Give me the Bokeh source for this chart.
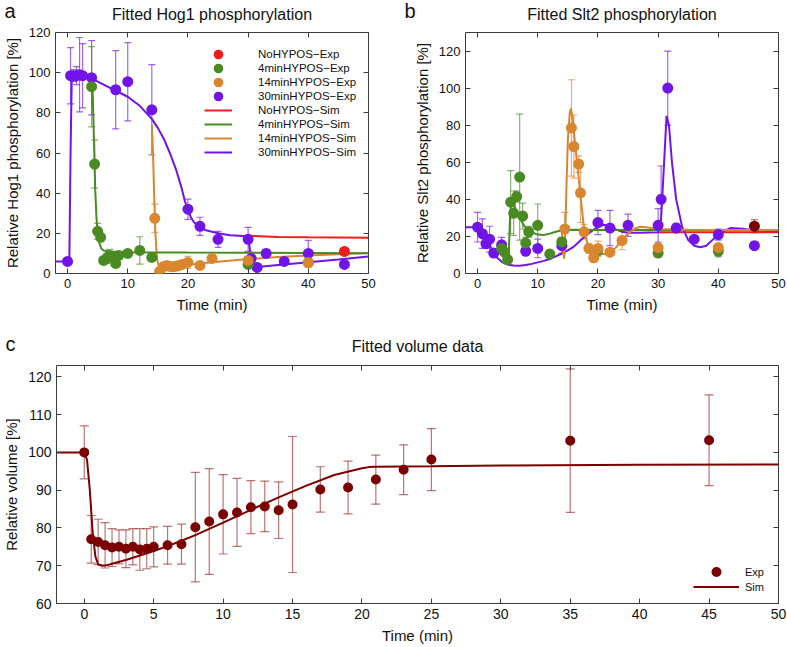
from bokeh.plotting import figure
from bokeh.layouts import column, row
from bokeh.models import (ColumnDataSource, Whisker, TeeHead, Legend, LegendItem,
                          LinearAxis, FixedTicker, Range1d)
from bokeh.embed import file_html
from bokeh.resources import INLINE

FONT = "Liberation Sans"

# ---------------- colours ----------------
C_NO = "#ee1c1c"
C_4 = "#4a8a22"
C_14 = "#d9862e"
C_30 = "#7014e8"
C_VOL = "#7b0000"

# ---------------- panel a : Hog1 ----------------
a_no_x = [46]
a_no_y = [11]
a_no_err = [1.5]

a_4_x = [4, 4.5, 5, 5.5, 6, 6.5, 7, 7.5, 8, 8.5, 10, 12, 14, 30, 40]
a_4_y = [93, 54.5, 21, 18, 6.5, 7.5, 9, 8.5, 5, 9, 10, 11.5, 8, 4.5, 5.5]
a_4_err = [20, 12, 4, 2, 2, 2.5, 3, 2, 2, 2, 1.5, 6.8, 1, 1, 1]

a_14_x = [14.5, 15.3, 16, 16.5, 17, 17.5, 18, 18.5, 19, 20, 22, 24, 30, 40]
a_14_y = [27.5, 1, 3.5, 4, 3.5, 3.3, 3.6, 4, 4.5, 5.5, 4, 7.5, 6.5, 5.3]
a_14_err = [7, 1, 1, 1, 1, 1, 1, 1, 1, 3, 1, 1.5, 2, 2]

a_30_x = [0, 0.5, 1, 1.5, 2, 2.5, 4, 8, 10, 14, 20, 22, 25, 30, 30.5, 31.5, 33, 36, 40, 46]
a_30_y = [6, 98.5, 98.5, 98.5, 99, 98.5, 97.5, 91.5, 95.5, 81.5, 32, 23.5, 17, 17, 7.5, 3, 10, 6, 10, 4.5]
a_30_err = [0, 14, 3, 4.5, 18.5, 16, 18.5, 19.5, 19.5, 22.5, 5, 4.5, 4, 6, 2, 1, 2, 1, 6.5, 1]

a_sim_no_x = [30, 35, 40, 45, 50]
a_sim_no_y = [18.8, 18.2, 18.0, 17.9, 17.8]

a_sim_4_x = [4, 4.2, 4.4, 4.6, 4.8, 5, 5.3, 5.6, 6, 7, 8, 10, 15, 20, 30, 40, 50]
a_sim_4_y = [97, 88, 65, 42, 28, 20, 15, 12.5, 11.5, 11, 10.8, 10.6, 10.5, 10.4, 10.3, 10.2, 10.1]

a_sim_14_x = [14, 14.2, 14.4, 14.6, 14.8, 15, 15.3, 15.7, 16.5, 18, 20, 22, 25, 30, 35, 40, 45, 50]
a_sim_14_y = [74, 60, 38, 20, 10, 5, 3.2, 2.9, 3, 3.6, 4.4, 5, 5.9, 7.2, 8.2, 9, 9.6, 10.2]

a_sim_30_x = [-2, 0.3, 0.5, 0.7, 1, 2, 4, 6, 8, 10, 12, 14, 15, 16, 17, 18, 19, 19.5, 20,
              20.5, 21, 22, 23, 25, 27, 30, 30.3, 30.6, 31, 31.5, 35, 40, 45, 50]
a_sim_30_y = [6, 6, 60, 97, 98.5, 98.5, 97, 94, 91, 88, 83.5, 77, 72.5, 67, 60, 52, 42, 36, 31.5,
              28, 25.5, 23, 21.5, 20, 19, 18.5, 12, 6, 4, 3.2, 4.2, 5.6, 7, 8.5]

# ---------------- panel b : Slt2 ----------------
b_no_x = [46]
b_no_y = [25.5]
b_no_err = [3.5]

b_4_x = [4, 4.5, 5, 5.5, 6, 6.5, 7, 7.5, 8, 8.5, 10, 12, 14, 20, 30, 40]
b_4_y = [13.5, 11.5, 7.5, 38.5, 32.5, 41.5, 52, 31, 16.5, 22.5, 26, 10.5, 17, 12.5, 11, 12]
b_4_err = [3, 2, 1.5, 17, 12, 3, 34, 7, 3, 3, 11.5, 2, 2.5, 3, 1.5, 3]

b_14_x = [14.5, 15.6, 16, 16.8, 17.1, 17.7, 18.5, 19.3, 20, 22, 24, 30, 40]
b_14_y = [24, 78.5, 68.5, 59, 43.5, 22.5, 13.5, 8.5, 13.5, 11.5, 17.8, 14, 14]
b_14_err = [9, 26, 17, 4.5, 16, 4, 2.5, 1.5, 4, 1.5, 5, 2, 2]

b_30_x = [0, 0.8, 1.4, 2, 2.7, 4, 8, 10, 14, 20, 22, 25, 30, 30.5, 31.6, 33, 36, 40, 46]
b_30_y = [25, 21.5, 16, 18.5, 11, 15.5, 12, 13.5, 15, 27.5, 24.5, 26, 26, 40, 100, 24.5, 18.5, 21, 15]
b_30_err = [8, 8, 2, 7, 2, 4, 2, 5, 4, 6.5, 9.5, 6, 9, 18, 20, 2.5, 1, 3, 1]

b_sim_no_x = [30, 40, 50]
b_sim_no_y = [22.3, 22.3, 22.3]

b_sim_4_x = [4, 5, 5.2, 5.4, 5.6, 5.9, 6.3, 7, 7.8, 8.8, 10, 11, 12, 13, 14, 16, 20, 25, 30, 40, 50]
b_sim_4_y = [6.3, 4.8, 12, 30, 39.5, 39, 35, 30, 25.5, 22.5, 21, 20.8, 21.5, 22.5, 23.3, 23.6,
             23.5, 23.5, 23.4, 23.3, 23.3]

b_sim_14_x = [14, 14.2, 14.4, 14.6, 14.8, 15, 15.3, 15.5, 15.8, 16.2, 16.6, 17.1, 17.7, 18.2,
              18.8, 19.5, 20, 21, 22, 23, 24, 25, 26, 27, 28, 30, 35, 40, 50]
b_sim_14_y = [23.5, 12, 8, 25, 50, 72, 86, 89, 84, 70, 58, 42, 24, 17, 13, 11, 10.5, 10.5, 11.5,
              14, 18, 21.5, 24, 25.2, 25, 24, 23.6, 23.5, 23.5]

b_sim_30_x = [-2, 0, 0.8, 1.6, 2.4, 3.2, 4, 5, 6, 7, 8, 9, 10, 11, 12, 13, 14, 15, 16, 17, 18,
              19, 20, 21, 22, 23, 24, 25, 27, 30, 30.5, 31, 31.4, 31.8, 32.3, 33, 34, 35, 36,
              37, 38, 39, 40, 41, 42, 44, 46, 50]
b_sim_30_y = [25, 25, 22, 17.8, 13, 8.7, 6.3, 4.8, 4.3, 4.2, 4.6, 5.2, 6, 6.8, 7.8, 9.2, 10.8,
              12.5, 14.5, 17.5, 20.5, 23, 25, 26.3, 25.5, 23.8, 22.5, 22, 22, 22.3, 30, 60, 85,
              80, 60, 40, 25, 18, 15, 14.2, 15, 18, 21, 23, 24.5, 24.2, 23.2, 22.8]

# ---------------- panel c : volume ----------------
c_x = [0, 0.5, 1, 1.5, 2, 2.5, 3, 3.5, 4, 4.5, 5, 6, 7, 8, 9, 10, 11, 12, 13, 14, 15, 17, 19,
       21, 23, 25, 35, 45]
c_y = [100, 77, 76.3, 75.4, 74.8, 75, 74.5, 75, 74.3, 74.5, 75, 75.4, 75.7, 80.2, 81.7, 83.6,
       84.1, 85.5, 85.7, 84.7, 86.2, 90.2, 90.7, 92.8, 95.4, 98.1, 103.1, 103.2]
c_err = [7, 6.3, 6, 6, 5, 4.5, 5, 4.8, 5.5, 5.3, 5.3, 5, 5.3, 14.5, 14, 10.5, 9, 7, 6.7, 7.5,
         18, 6, 7, 6.5, 6.6, 8.2, 19, 12]

c_sim_x = [-2, 0, 0.2, 0.4, 0.6, 0.8, 1.0, 1.3, 1.6, 2, 3, 4, 5, 6, 7, 8, 10, 12, 14, 16, 18,
           20, 20.5, 21, 25, 30, 40, 50]
c_sim_y = [100, 100, 98, 90, 79, 72.5, 70.3, 70, 70.1, 70.5, 71.5, 72.7, 73.9, 75.2, 76.6, 78.1,
           81.4, 84.8, 88.1, 91.2, 94, 95.8, 96.1, 96.2, 96.3, 96.5, 96.7, 96.8]

xticks_ab = [0, 10, 20, 30, 40, 50]
yticks_a = [0, 20, 40, 60, 80, 100, 120]
yticks_b = [0, 20, 40, 60, 80, 100, 120]
xticks_c = [0, 5, 10, 15, 20, 25, 30, 35, 40, 45, 50]
yticks_c = [60, 70, 80, 90, 100, 110, 120]

EDGE = "#3c3c3c"


def make_fig(width, height, xr, yr, letter, title, xlabel, ylabel, xticks, yticks,
             mbl, mbr, mbt, mbb, letter_offset, title_standoff, letter_standoff,
             tick_font="13px"):
    p = figure(width=width, height=height, x_range=Range1d(*xr), y_range=Range1d(*yr),
               output_backend="svg", toolbar_location=None, tools="",
               min_border_left=mbl, min_border_right=mbr, min_border_top=mbt,
               min_border_bottom=mbb, x_axis_location=None, y_axis_location=None)
    # panel letter = plot title (outermost above element), pulled down beside the heading
    p.title.text = letter
    p.title.align = "left"
    p.title.offset = letter_offset
    p.title.vertical_align = "bottom"
    p.title.standoff = letter_standoff
    p.title.text_font = FONT
    p.title.text_font_size = "20px"
    p.title.text_font_style = "normal"
    p.title.text_color = "#111111"
    p.outline_line_color = EDGE
    p.outline_line_width = 1
    p.xgrid.visible = False
    p.ygrid.visible = False
    p.background_fill_color = "white"
    p.border_fill_color = "white"

    def axis(ticks, label, show, label_standoff, label_size="15px"):
        ax = LinearAxis(ticker=FixedTicker(ticks=ticks))
        ax.axis_line_color = None
        ax.major_tick_in = 5
        ax.major_tick_out = 0
        ax.major_tick_line_color = EDGE
        ax.minor_tick_line_color = None
        ax.axis_label_text_font = FONT
        ax.axis_label_text_font_style = "normal"
        ax.axis_label_text_color = "#111111"
        ax.axis_label_standoff = label_standoff
        ax.axis_label_text_font_size = label_size
        if label:
            ax.axis_label = label
        if show:
            ax.major_label_text_font = FONT
            ax.major_label_text_font_size = tick_font
            ax.major_label_text_color = "#111111"
            ax.major_label_standoff = 5
        else:
            ax.major_label_overrides = {t: "" for t in ticks}
            ax.major_label_text_font_size = "0px"
            ax.major_label_standoff = 0
        return ax

    p.add_layout(axis(xticks, xlabel, True, 5), "below")
    p.add_layout(axis(yticks, ylabel, True, 5), "left")
    # top axis carries the panel heading as its label
    p.add_layout(axis(xticks, title, False, title_standoff, "16px"), "above")
    p.add_layout(axis(yticks, None, False, 0), "right")
    return p


def errbars(p, x, y, e, color, head=7):
    src = ColumnDataSource(dict(x=x, lo=[a - b for a, b in zip(y, e)],
                                hi=[a + b for a, b in zip(y, e)]))
    w = Whisker(base="x", lower="lo", upper="hi", source=src, line_color=color,
                line_alpha=0.65, line_width=1.2, level="underlay",
                upper_head=TeeHead(size=head, line_color=color, line_alpha=0.65, line_width=1.2),
                lower_head=TeeHead(size=head, line_color=color, line_alpha=0.65, line_width=1.2))
    p.add_layout(w)


def points(p, x, y, color, size=7, lw=4):
    # visual diameter = size + line width (thick outline keeps legend markers large too)
    return p.scatter(x, y, size=size, marker="circle", fill_color=color, line_color=color,
                     line_width=lw)


# ---------------- figure a ----------------
pa = make_fig(400, 317, (-2, 50), (0, 120), "a", "Fitted Hog1 phosphorylation", "Time (min)",
              "Relative Hog1 phosphorylation [%]", xticks_ab, yticks_a, 55, 32, 32, 44,
              -51, 10, -38)
ra_sno = pa.line(a_sim_no_x, a_sim_no_y, line_color=C_NO, line_width=2)
ra_s30 = pa.line(a_sim_30_x, a_sim_30_y, line_color=C_30, line_width=2)
ra_s14 = pa.line(a_sim_14_x, a_sim_14_y, line_color=C_14, line_width=2)
ra_s4 = pa.line(a_sim_4_x, a_sim_4_y, line_color=C_4, line_width=2)
errbars(pa, a_30_x, a_30_y, a_30_err, C_30)
errbars(pa, a_4_x, a_4_y, a_4_err, C_4)
errbars(pa, a_14_x, a_14_y, a_14_err, C_14)
errbars(pa, a_no_x, a_no_y, a_no_err, C_NO)
ra_30 = points(pa, a_30_x, a_30_y, C_30)
ra_4 = points(pa, a_4_x, a_4_y, C_4)
ra_14 = points(pa, a_14_x, a_14_y, C_14)
ra_no = points(pa, a_no_x, a_no_y, C_NO)
leg_a = Legend(items=[
    LegendItem(label="NoHYPOS\u2212Exp", renderers=[ra_no]),
    LegendItem(label="4minHYPOS\u2212Exp", renderers=[ra_4]),
    LegendItem(label="14minHYPOS\u2212Exp", renderers=[ra_14]),
    LegendItem(label="30minHYPOS\u2212Exp", renderers=[ra_30]),
    LegendItem(label="NoHYPOS\u2212Sim", renderers=[ra_sno]),
    LegendItem(label="4minHYPOS\u2212Sim", renderers=[ra_s4]),
    LegendItem(label="14minHYPOS\u2212Sim", renderers=[ra_s14]),
    LegendItem(label="30minHYPOS\u2212Sim", renderers=[ra_s30]),
], location=(149, 114), border_line_color=None, background_fill_alpha=0,
    label_text_font=FONT, label_text_font_size="11.5px", label_text_color="#111111",
    glyph_width=28, glyph_height=14, label_height=14, spacing=0, label_standoff=26,
    padding=0, margin=0)
pa.add_layout(leg_a)

# ---------------- figure b ----------------
pb = make_fig(387, 317, (-2, 50), (0, 130), "b", "Fitted Slt2 phosphorylation", "Time (min)",
              "Relative Slt2 phosphorylation [%]", xticks_ab, yticks_b, 65, 9, 32, 44,
              -61, 10, -38)
pb.line(b_sim_no_x, b_sim_no_y, line_color=C_NO, line_width=2)
pb.line(b_sim_30_x, b_sim_30_y, line_color=C_30, line_width=2)
pb.line(b_sim_4_x, b_sim_4_y, line_color=C_4, line_width=2)
pb.line(b_sim_14_x, b_sim_14_y, line_color=C_14, line_width=2)
errbars(pb, b_30_x, b_30_y, b_30_err, C_30)
errbars(pb, b_4_x, b_4_y, b_4_err, C_4)
errbars(pb, b_14_x, b_14_y, b_14_err, C_14)
errbars(pb, b_no_x, b_no_y, b_no_err, C_VOL)
points(pb, b_30_x, b_30_y, C_30)
points(pb, b_4_x, b_4_y, C_4)
points(pb, b_14_x, b_14_y, C_14)
points(pb, b_no_x, b_no_y, C_VOL)

# ---------------- figure c ----------------
pc = make_fig(787, 330, (-2, 50), (60, 123), "c", "Fitted volume data", "Time (min)",
              "Relative volume [%]", xticks_c, yticks_c, 55, 9, 48, 44,
              -51, 11, -40, tick_font="14px")
rc_sim = pc.line(c_sim_x, c_sim_y, line_color=C_VOL, line_width=2)
errbars(pc, c_x, c_y, c_err, "#9a2a2a", head=9)
rc_exp = points(pc, c_x, c_y, C_VOL, size=6, lw=4)
leg_c = Legend(items=[LegendItem(label="Exp", renderers=[rc_exp]),
                      LegendItem(label="Sim", renderers=[rc_sim])],
               location=(637, 9), border_line_color=None, background_fill_alpha=0,
               label_text_font=FONT, label_text_font_size="11px", label_text_color="#111111",
               glyph_width=46, glyph_height=15, label_height=15, spacing=0, label_standoff=6,
               padding=0, margin=0)
pc.add_layout(leg_c)

layout = column(row(pa, pb), pc)
open("out.html", "w").write(file_html(layout, INLINE))
